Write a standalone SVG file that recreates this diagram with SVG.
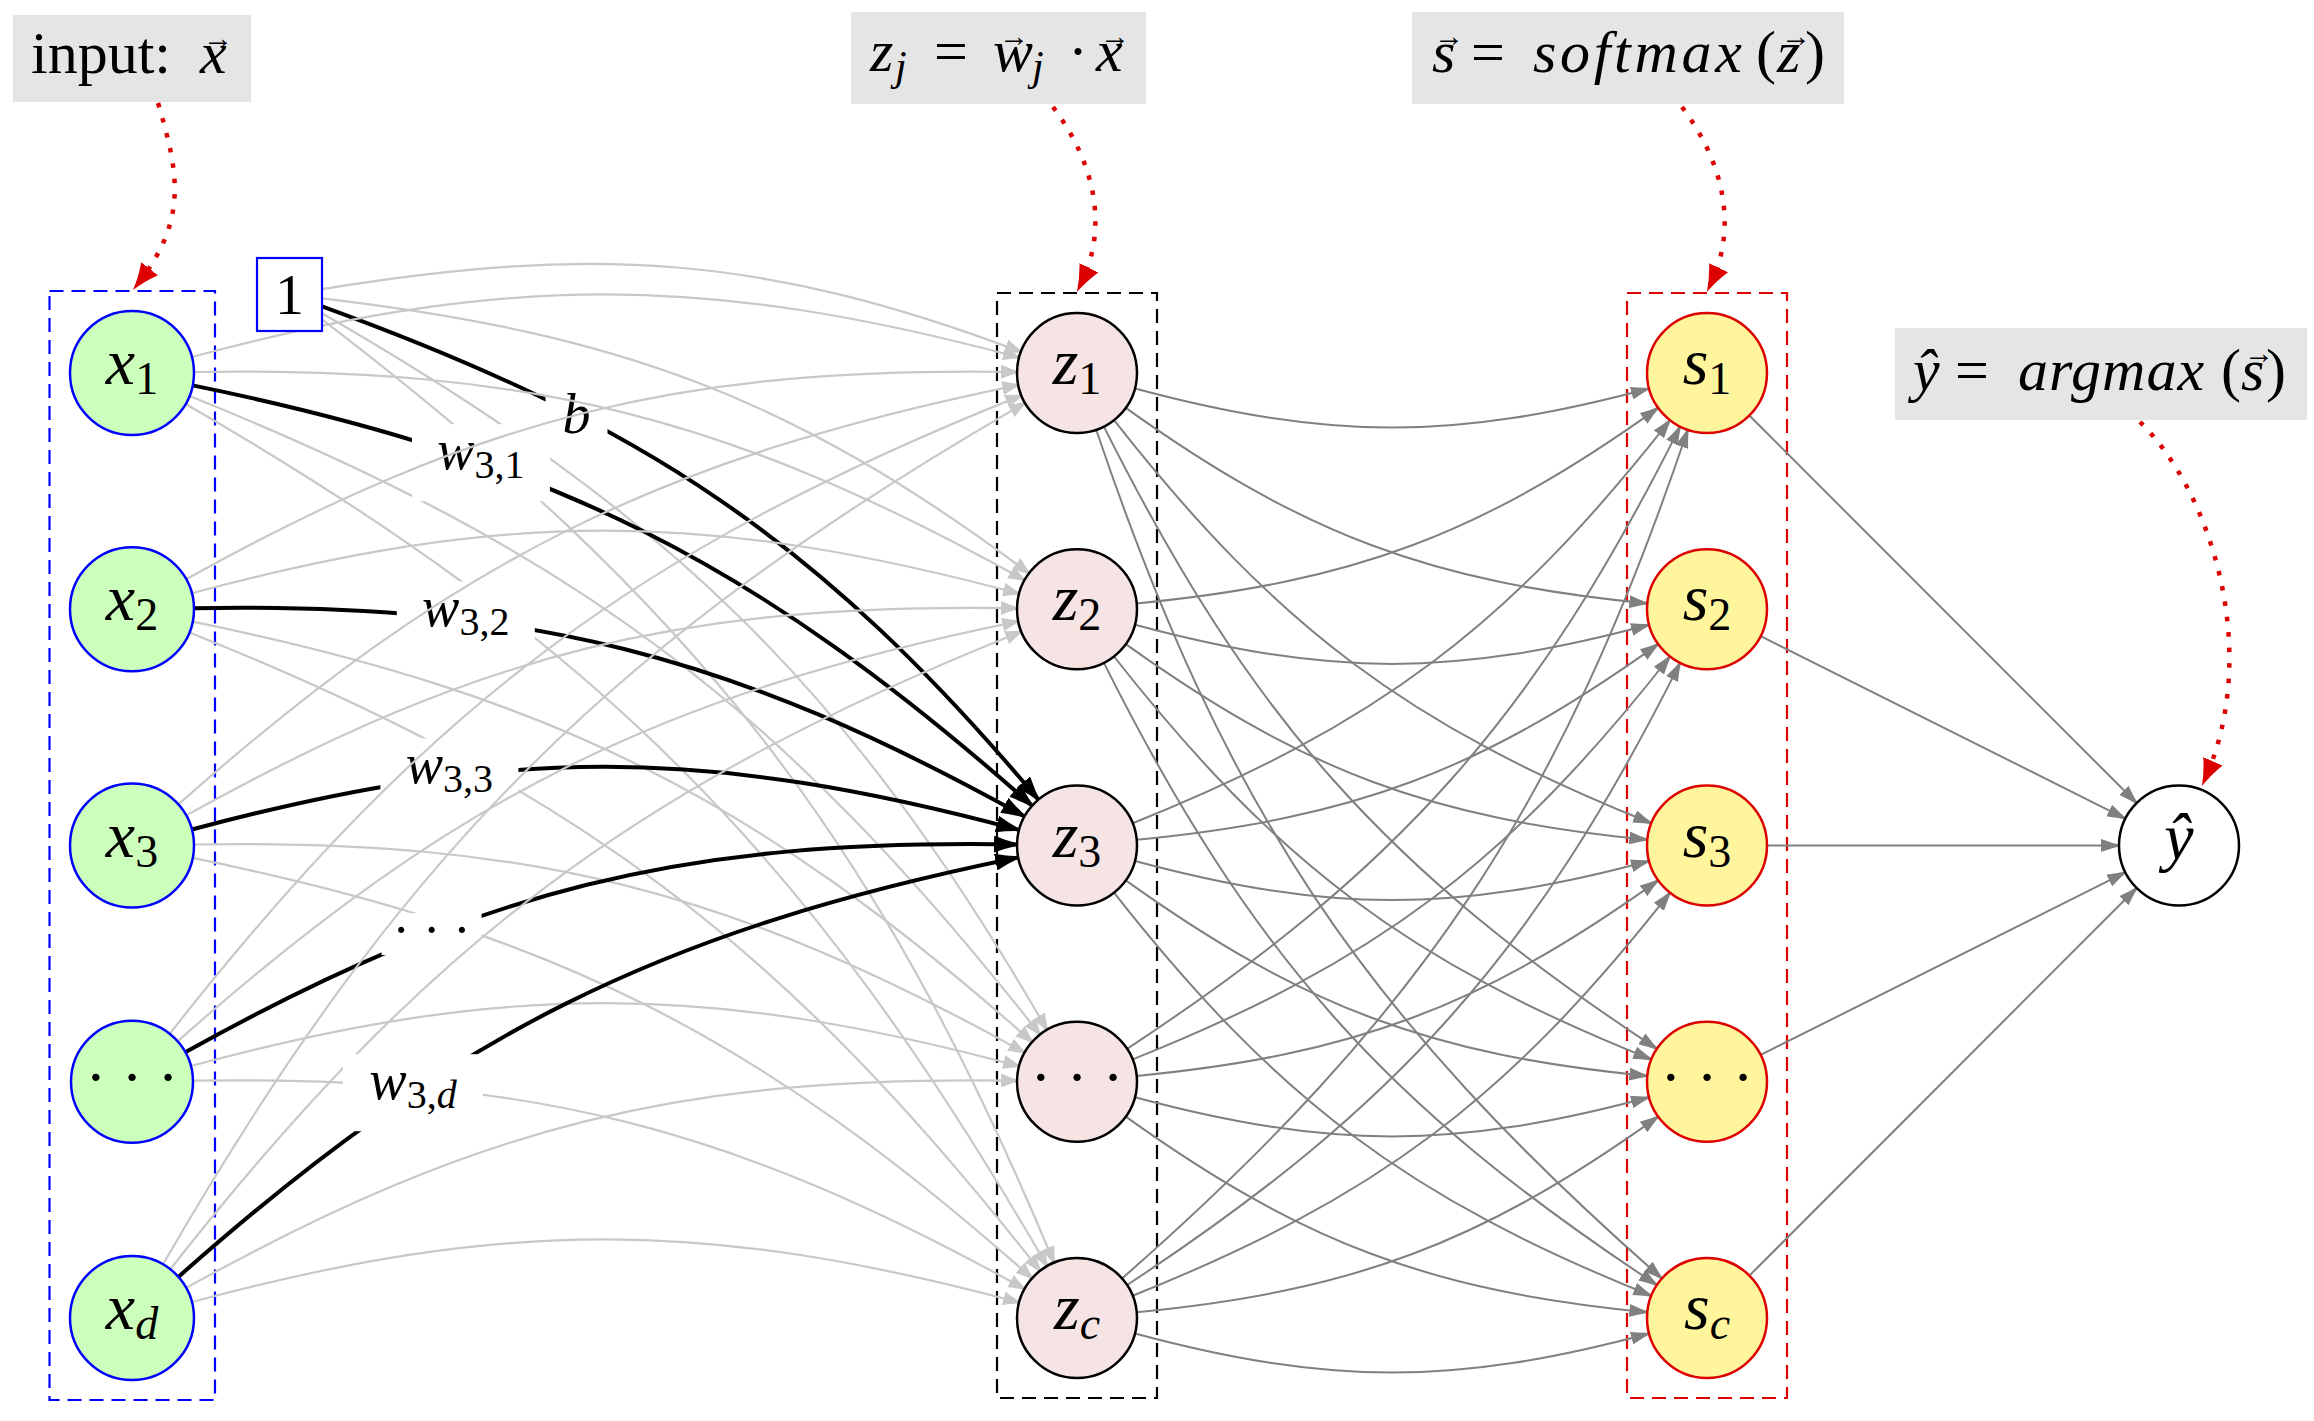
<svg xmlns="http://www.w3.org/2000/svg" width="2314" height="1421" viewBox="0 0 2314 1421">
<style>
.t{font-family:"Liberation Serif","DejaVu Serif",serif;fill:#000}
.it{font-style:italic}
.nl{font-size:66px;text-anchor:middle}
.sub{font-size:46px}
.lg{fill:none;stroke:#C8C8C8;stroke-width:2.2;marker-end:url(#ah-lg)}
.bk{fill:none;stroke:#000;stroke-width:4;marker-end:url(#ah-bk)}
.dg{fill:none;stroke:#808080;stroke-width:2;marker-end:url(#ah-dg)}
.rd{fill:none;stroke:#DD0000;stroke-width:4.5;stroke-dasharray:4.5 11;marker-end:url(#ah-rd)}
.xn{fill:#CCFFBB;stroke:#0000FF;stroke-width:2.5}
.zn{fill:#F6E4E4;stroke:#000;stroke-width:2.5}
.sn{fill:#FFF59D;stroke:#DD0000;stroke-width:2.5}
.yn{fill:#fff;stroke:#000;stroke-width:2.5}
.fb{fill:#E5E5E5}
.grp{fill:none;stroke-width:2.2;stroke-dasharray:14 8}
.ll{font-size:56px;text-anchor:middle}
.ls{font-size:40px}
.ar{font-size:30px;font-style:normal}
</style>
<defs>
<marker id="ah-lg" markerUnits="userSpaceOnUse" markerWidth="20" markerHeight="14" viewBox="0 0 20 14" refX="16" refY="7" orient="auto"><path d="M0,0 Q10,4.4 20,7 Q10,9.6 0,14 Z" fill="#C8C8C8"/></marker>
<marker id="ah-bk" markerUnits="userSpaceOnUse" markerWidth="28" markerHeight="17" viewBox="0 0 28 17" refX="23" refY="8.5" orient="auto"><path d="M0,0 Q14,5.5 28,8.5 Q14,11.5 0,17 Z" fill="#000"/></marker>
<marker id="ah-dg" markerUnits="userSpaceOnUse" markerWidth="22" markerHeight="13" viewBox="0 0 22 13" refX="18" refY="6.5" orient="auto"><path d="M0,0 Q11,4.2 22,6.5 Q11,8.8 0,13 Z" fill="#808080"/></marker>
<marker id="ah-rd" markerUnits="userSpaceOnUse" markerWidth="27" markerHeight="21" viewBox="0 0 27 21" refX="19" refY="10.5" orient="auto"><path d="M0,0 Q13.5,7 27,10.5 Q13.5,14 0,21 Z" fill="#DD0000"/></marker>
</defs>
<rect width="2314" height="1421" fill="#fff"/>

<g id="groups">
<rect id="input-group" class="grp" x="49.5" y="291" width="165.5" height="1109" stroke="#0000FF"/>
<rect id="z-group" class="grp" x="997" y="293" width="160" height="1105" stroke="#000"/>
<rect id="s-group" class="grp" x="1627" y="293" width="160" height="1105" stroke="#DD0000"/>
</g>

<g id="connectors">
<path class="lg" d="M322,289.2 C593.1,244.8 763.9,254.8 1020.9,351.8"/>
<path class="lg" d="M322,298.4 C616.9,333.4 791.1,395.5 1029,573.3"/>
<path class="bk" d="M322,306.3 C642,422.7 819.4,538.8 1038.4,799.6"/>
<path class="lg" d="M322,313.3 C667.7,512.7 847.4,684.2 1047,1029.8"/>
<path class="lg" d="M322,319.4 C693.2,603.4 874.5,831.1 1054,1262.6"/>
<g><rect x="545.5" y="376.4" width="62" height="77" fill="#fff"/><text class="t ll it" x="576.5" y="433">b</text></g>
<path class="lg" d="M191.9,357 C504.7,273.1 706.3,273.7 1019.1,357.5"/>
<path class="lg" d="M194,372 C529.1,366.3 731.5,417.4 1024.5,580.1"/>
<path class="bk" d="M192.7,385.4 C552.8,459.1 757.2,561.9 1032.1,805.7"/>
<path class="lg" d="M189.5,396.1 C575.9,551.2 782.9,707.1 1040,1034.6"/>
<path class="lg" d="M185.7,404 C598.9,642.6 808.5,852.9 1047,1266"/>
<g><rect x="411.9" y="424.2" width="138" height="77" fill="#fff"/><text class="t ll" x="480.9" y="469"><tspan class="it">w</tspan><tspan class="ls" dy="9">3,1</tspan></text></g>
<path class="lg" d="M186.2,579.2 C479.3,416.5 681.9,366.4 1017,372"/>
<path class="lg" d="M191.9,593.2 C504.7,509.4 706.3,509.9 1019.1,593.7"/>
<path class="bk" d="M194,608.2 C529.1,602.6 731.5,653.7 1024.5,816.4"/>
<path class="lg" d="M192.7,621.7 C552.8,695.4 757.2,798.1 1032.1,1041.9"/>
<path class="lg" d="M189.5,632.4 C575.9,787.4 782.9,943.3 1040,1270.8"/>
<g><rect x="396.8" y="581.4" width="138" height="77" fill="#fff"/><text class="t ll" x="465.8" y="626.2"><tspan class="it">w</tspan><tspan class="ls" dy="9">3,2</tspan></text></g>
<path class="lg" d="M178.4,804.4 C453.4,560.5 658.2,458.7 1018.2,385"/>
<path class="lg" d="M186.2,815.4 C479.3,652.7 681.9,602.6 1017,608.2"/>
<path class="bk" d="M191.9,829.5 C504.7,745.6 706.3,746.2 1019.1,830"/>
<path class="lg" d="M194,844.5 C529.1,838.8 731.5,889.9 1024.5,1052.6"/>
<path class="lg" d="M192.7,857.9 C552.8,931.6 757.2,1034.4 1032.1,1278.2"/>
<g><rect x="380.4" y="738.3" width="138" height="77" fill="#fff"/><text class="t ll" x="449.4" y="783.1"><tspan class="it">w</tspan><tspan class="ls" dy="9">3,3</tspan></text></g>
<path class="lg" d="M170.3,1033 C427.3,705.5 635,550.4 1021.3,395.4"/>
<path class="lg" d="M178.4,1040.6 C453.4,796.8 658.2,695 1018.2,621.3"/>
<path class="bk" d="M186.2,1051.7 C479.3,889 681.9,838.9 1017,844.5"/>
<path class="lg" d="M191.9,1065.7 C504.7,981.9 706.3,982.4 1019.1,1066.2"/>
<path class="lg" d="M194,1080.7 C529.1,1075.1 731.5,1126.2 1024.5,1288.9"/>
<g><rect x="381.6" y="913" width="100" height="42" fill="#fff"/><text class="t" x="431.6" y="947" font-size="52" text-anchor="middle">· · ·</text></g>
<path class="lg" d="M163,1264.3 C401.6,851.1 611.9,641.6 1025,403"/>
<path class="lg" d="M170.3,1269.2 C427.3,941.8 635,786.7 1021.3,631.6"/>
<path class="bk" d="M178.4,1276.9 C453.4,1033 658.2,931.2 1018.2,857.5"/>
<path class="lg" d="M186.2,1287.9 C479.3,1125.2 681.9,1075.1 1017,1080.7"/>
<path class="lg" d="M191.9,1302 C504.7,1218.1 706.3,1218.7 1019.1,1302.5"/>
<g><rect x="343" y="1054.2" width="140" height="77" fill="#fff"/><text class="t ll" x="413" y="1099"><tspan class="it">w</tspan><tspan class="ls" dy="9">3,<tspan class="it">d</tspan></tspan></text></g>
<path class="dg" d="M1135,388.5 C1329.4,440.6 1454.6,440.6 1649,388.5"/>
<path class="dg" d="M1125.8,407.9 C1303.2,534.7 1430.3,582.3 1647.3,603.4"/>
<path class="dg" d="M1114,420.2 C1276.4,627 1407.4,725.2 1651.3,823.2"/>
<path class="dg" d="M1103.9,426.6 C1250,718 1384.7,869.6 1656.9,1048.8"/>
<path class="dg" d="M1096.2,429.8 C1224.2,808.1 1362,1014.8 1661.9,1278.4"/>
<path class="dg" d="M1136.7,603.4 C1353.7,582.3 1480.8,534.7 1658.2,407.9"/>
<path class="dg" d="M1135,624.8 C1329.4,676.9 1454.6,676.9 1649,624.8"/>
<path class="dg" d="M1125.8,644.1 C1303.2,770.9 1430.3,818.6 1647.3,839.7"/>
<path class="dg" d="M1114,656.5 C1276.4,863.3 1407.4,961.5 1651.3,1059.4"/>
<path class="dg" d="M1103.9,662.9 C1250,954.2 1384.7,1105.8 1656.9,1285"/>
<path class="dg" d="M1132.7,823.2 C1376.7,725.2 1507.7,627 1670,420.2"/>
<path class="dg" d="M1136.7,839.7 C1353.7,818.6 1480.8,770.9 1658.2,644.1"/>
<path class="dg" d="M1135,861 C1329.4,913.1 1454.6,913.1 1649,861"/>
<path class="dg" d="M1125.8,880.4 C1303.2,1007.2 1430.3,1054.8 1647.3,1075.9"/>
<path class="dg" d="M1114,892.7 C1276.4,1099.5 1407.4,1197.7 1651.3,1295.7"/>
<path class="dg" d="M1127.1,1048.8 C1399.3,869.6 1534,718 1680.1,426.6"/>
<path class="dg" d="M1132.7,1059.4 C1376.7,961.5 1507.7,863.3 1670,656.5"/>
<path class="dg" d="M1136.7,1075.9 C1353.7,1054.8 1480.8,1007.2 1658.2,880.4"/>
<path class="dg" d="M1135,1097.3 C1329.4,1149.4 1454.6,1149.4 1649,1097.3"/>
<path class="dg" d="M1125.8,1116.6 C1303.2,1243.4 1430.3,1291.1 1647.3,1312.2"/>
<path class="dg" d="M1122.1,1278.4 C1422,1014.8 1559.8,808.1 1687.8,429.8"/>
<path class="dg" d="M1127.1,1285 C1399.3,1105.8 1534,954.2 1680.1,662.9"/>
<path class="dg" d="M1132.7,1295.7 C1376.7,1197.7 1507.7,1099.5 1670,892.7"/>
<path class="dg" d="M1136.7,1312.2 C1353.7,1291.1 1480.8,1243.4 1658.2,1116.6"/>
<path class="dg" d="M1135,1333.5 C1329.4,1385.6 1454.6,1385.6 1649,1333.5"/>
<path class="dg" d="M1749.4,415.5 L2136.6,803"/>
<path class="dg" d="M1760.7,636.1 L2125.3,818.6"/>
<path class="dg" d="M1767,845.5 L2119,845.5"/>
<path class="dg" d="M1760.7,1054.9 L2125.3,872.4"/>
<path class="dg" d="M1749.4,1275.6 L2136.6,888"/>
<path class="rd" d="M158,103 C178.6,173 188.4,219 137.9,283.7"/>
<path class="rd" d="M1053,107 C1093,160 1110,225 1080.5,284.8"/>
<path class="rd" d="M1682,107 C1722,160 1739,225 1710.4,284.8"/>
<path class="rd" d="M2140,422 C2210,490 2262,650 2205.2,778.7"/>
</g>

<g id="bias"><rect x="257" y="258" width="65" height="73" fill="#fff" stroke="#0000FF" stroke-width="2.2"/><text class="t" x="289.5" y="314" font-size="58" text-anchor="middle">1</text></g>

<g id="x1"><circle class="xn" cx="132" cy="373" r="62"/><text class="t nl" x="132" y="384"><tspan class="it">x</tspan><tspan class="sub" dy="10">1</tspan></text></g>
<g id="x2"><circle class="xn" cx="132" cy="609.3" r="62"/><text class="t nl" x="132" y="620.3"><tspan class="it">x</tspan><tspan class="sub" dy="10">2</tspan></text></g>
<g id="x3"><circle class="xn" cx="132" cy="845.5" r="62"/><text class="t nl" x="132" y="856.5"><tspan class="it">x</tspan><tspan class="sub" dy="10">3</tspan></text></g>
<g id="x-dots"><circle class="xn" cx="132" cy="1081.8" r="61"/><text class="t" x="132" y="1098" font-size="62" text-anchor="middle">· · ·</text></g>
<g id="xd"><circle class="xn" cx="132" cy="1318" r="62"/><text class="t nl" x="132" y="1329"><tspan class="it">x</tspan><tspan class="sub it" dy="10">d</tspan></text></g>

<g id="z1"><circle class="zn" cx="1077" cy="373" r="60"/><text class="t nl" x="1077" y="384"><tspan class="it">z</tspan><tspan class="sub" dy="10">1</tspan></text></g>
<g id="z2"><circle class="zn" cx="1077" cy="609.3" r="60"/><text class="t nl" x="1077" y="620.3"><tspan class="it">z</tspan><tspan class="sub" dy="10">2</tspan></text></g>
<g id="z3"><circle class="zn" cx="1077" cy="845.5" r="60"/><text class="t nl" x="1077" y="856.5"><tspan class="it">z</tspan><tspan class="sub" dy="10">3</tspan></text></g>
<g id="z-dots"><circle class="zn" cx="1077" cy="1081.8" r="60"/><text class="t" x="1077" y="1098" font-size="62" text-anchor="middle">· · ·</text></g>
<g id="zc"><circle class="zn" cx="1077" cy="1318" r="60"/><text class="t nl" x="1077" y="1329"><tspan class="it">z</tspan><tspan class="sub it" dy="10">c</tspan></text></g>

<g id="s1"><circle class="sn" cx="1707" cy="373" r="60"/><text class="t nl" x="1707" y="384"><tspan class="it">s</tspan><tspan class="sub" dy="10">1</tspan></text></g>
<g id="s2"><circle class="sn" cx="1707" cy="609.3" r="60"/><text class="t nl" x="1707" y="620.3"><tspan class="it">s</tspan><tspan class="sub" dy="10">2</tspan></text></g>
<g id="s3"><circle class="sn" cx="1707" cy="845.5" r="60"/><text class="t nl" x="1707" y="856.5"><tspan class="it">s</tspan><tspan class="sub" dy="10">3</tspan></text></g>
<g id="s-dots"><circle class="sn" cx="1707" cy="1081.8" r="60"/><text class="t" x="1707" y="1098" font-size="62" text-anchor="middle">· · ·</text></g>
<g id="sc"><circle class="sn" cx="1707" cy="1318" r="60"/><text class="t nl" x="1707" y="1329"><tspan class="it">s</tspan><tspan class="sub it" dy="10">c</tspan></text></g>

<g id="yhat"><circle class="yn" cx="2179" cy="845.5" r="60"/><text class="t nl it" x="2179" y="859">ŷ</text></g>

<g id="label-input"><rect class="fb" x="13" y="15" width="238" height="87"/><text class="t" font-size="60" y="73"><tspan x="31">input:</tspan><tspan x="200" class="it">x</tspan><tspan class="ar" x="203" y="48">→</tspan></text></g>
<g id="label-z"><rect class="fb" x="851" y="12" width="295" height="92"/><text class="t" font-size="60" y="71"><tspan x="870" class="it">z</tspan><tspan x="895" y="80" font-size="42" class="it">j</tspan><tspan x="934" y="71">=</tspan><tspan x="993" class="it">w</tspan><tspan class="ar" x="999" y="46">→</tspan><tspan x="1032" y="80" font-size="42" class="it">j</tspan><tspan x="1068" y="71">·</tspan><tspan x="1096" class="it">x</tspan><tspan class="ar" x="1100" y="46">→</tspan></text></g>
<g id="label-s"><rect class="fb" x="1412" y="12" width="432" height="92"/><text class="t" font-size="60" y="72"><tspan x="1432" class="it">s</tspan><tspan class="ar" x="1434" y="46">→</tspan><tspan x="1471" y="72">=</tspan><tspan x="1533" class="it" letter-spacing="3.7">softmax</tspan><tspan x="1756">(</tspan><tspan x="1777" class="it">z</tspan><tspan class="ar" x="1781" y="46">→</tspan><tspan x="1805" y="72">)</tspan></text></g>
<g id="label-y"><rect class="fb" x="1895" y="328" width="412" height="92"/><text class="t" font-size="60" y="390"><tspan x="1913" class="it">ŷ</tspan><tspan x="1955">=</tspan><tspan x="2018" class="it" letter-spacing="1">argmax</tspan><tspan x="2221">(</tspan><tspan x="2241" class="it">s</tspan><tspan class="ar" x="2244" y="363">→</tspan><tspan x="2266" y="390">)</tspan></text></g>
</svg>
